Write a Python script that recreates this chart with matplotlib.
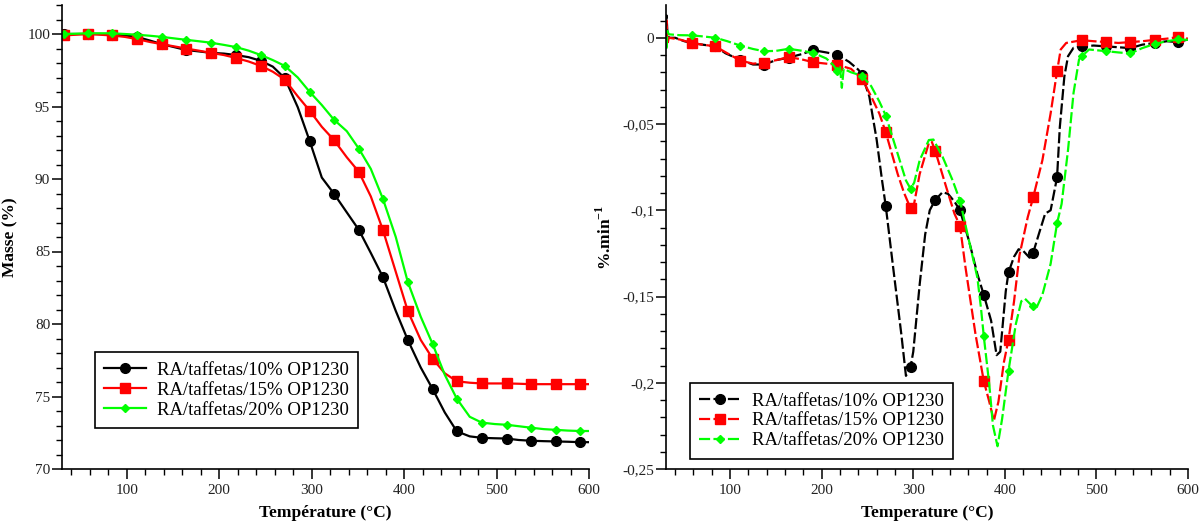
import matplotlib
matplotlib.use("Agg")
import matplotlib.pyplot as plt
from matplotlib.ticker import MultipleLocator, FuncFormatter

plt.rcParams['font.family'] = ['Liberation Serif', 'DejaVu Serif']
plt.rcParams['mathtext.fontset'] = 'custom'
plt.rcParams['mathtext.rm'] = 'Liberation Serif'
plt.rcParams['mathtext.bf'] = 'Liberation Serif:bold'

labels = ["RA/taffetas/10% OP1230", "RA/taffetas/15% OP1230", "RA/taffetas/20% OP1230"]
colors = ["#000000", "#ff0000", "#00ff00"]

# ---------------- Left panel: TGA mass (%) ----------------
T_left = [32, 45, 58, 71, 84, 98, 111, 125, 138, 151, 164, 178, 191, 205, 218, 232,
          245, 258, 271, 285, 298, 311, 324, 338, 351, 364, 377, 391, 404, 418, 431,
          444, 457, 471, 484, 498, 511, 524, 537, 551, 564, 577, 590, 600]
mass_10 = [100.0, 100.0, 100.0, 100.0, 99.95, 99.9, 99.8, 99.55, 99.3, 99.1, 98.9, 98.8,
           98.7, 98.65, 98.55, 98.4, 98.15, 97.75, 96.95, 94.95, 92.6, 90.1, 89.0, 87.7,
           86.5, 84.9, 83.25, 80.9, 78.9, 77.0, 75.5, 73.9, 72.6, 72.25, 72.15, 72.12,
           72.1, 72.0, 71.95, 71.92, 71.9, 71.88, 71.85, 71.85]
mass_15 = [99.9, 99.95, 100.0, 99.95, 99.9, 99.8, 99.65, 99.45, 99.3, 99.15, 99.0, 98.85,
           98.7, 98.55, 98.35, 98.1, 97.8, 97.4, 96.85, 95.7, 94.7, 93.6, 92.7, 91.5,
           90.5, 88.8, 86.5, 83.6, 80.9, 78.9, 77.6, 76.6, 76.05, 75.95, 75.9, 75.9,
           75.9, 75.88, 75.85, 75.85, 75.85, 75.85, 75.85, 75.85]
mass_20 = [100.0, 100.02, 100.05, 100.05, 100.05, 100.0, 99.95, 99.88, 99.8, 99.7, 99.6,
           99.5, 99.4, 99.25, 99.1, 98.85, 98.55, 98.2, 97.8, 97.0, 96.0, 95.1, 94.1,
           93.3, 92.1, 90.7, 88.65, 86.0, 82.9, 80.5, 78.6, 76.5, 74.85, 73.6, 73.2,
           73.1, 73.05, 72.95, 72.85, 72.75, 72.7, 72.65, 72.62, 72.62]

# ---------------- Right panel: DTG (%/min) ----------------
T_dtg_10 = [30, 30.5, 31.5, 33, 40, 50, 58, 70, 84, 95, 111, 125, 137, 150, 164, 178, 191,
            205, 217, 230, 240, 244, 252, 260, 266, 270, 278, 287, 292, 297, 300, 307, 313,
            318, 324, 332, 338, 345, 351, 361, 370, 377, 385, 391, 395, 401, 404, 410,
            415, 420, 427, 431, 437, 444, 450, 457, 460, 465, 469, 475, 484, 497, 511,
            524, 537, 550, 564, 577, 589, 600]
dtg_10 = [0.0, 0.013, 0.004, 0.0, 0.0, -0.002, -0.003, -0.004, -0.005, -0.009, -0.0128,
          -0.0155, -0.0155, -0.013, -0.0115, -0.0095, -0.0072, -0.0085, -0.0098, -0.014,
          -0.0185, -0.0215, -0.034, -0.059, -0.083, -0.0977, -0.133, -0.172, -0.196,
          -0.191, -0.182, -0.143, -0.114, -0.100, -0.094, -0.0895, -0.0905, -0.095,
          -0.100, -0.118, -0.137, -0.149, -0.164, -0.184, -0.182, -0.147, -0.136,
          -0.127, -0.1226, -0.1235, -0.1275, -0.1245, -0.114, -0.102, -0.100, -0.081,
          -0.052, -0.0224, -0.0107, -0.0058, -0.005, -0.0045, -0.005, -0.0055, -0.006,
          -0.004, -0.003, -0.002, -0.0025, -0.001]

T_dtg_15 = [30, 30.5, 31.5, 33, 45, 58, 70, 84, 97, 111, 125, 137, 150, 164, 178, 191,
            205, 217, 232, 244, 254, 263, 270, 283, 290, 297, 301, 307, 317, 320, 324,
            336, 345, 351, 357, 368, 377, 383, 388, 393, 399, 404, 410, 416, 425, 431,
            441, 450, 457, 461, 467, 484, 497, 511, 524, 537, 550, 564, 577, 589, 600]
dtg_15 = [0.0, 0.010, -0.004, 0.0, -0.001, -0.003, -0.004, -0.005, -0.009, -0.0132,
          -0.015, -0.0145, -0.013, -0.0112, -0.0125, -0.0142, -0.015, -0.0156, -0.018,
          -0.0237, -0.034, -0.044, -0.0549, -0.079, -0.090, -0.0988, -0.096, -0.079,
          -0.061, -0.060, -0.0656, -0.0866, -0.102, -0.109, -0.133, -0.172, -0.199,
          -0.211, -0.222, -0.211, -0.188, -0.175, -0.153, -0.126, -0.104, -0.0924,
          -0.071, -0.0438, -0.0195, -0.0068, -0.003, -0.0014, -0.002, -0.0025, -0.003,
          -0.0025, -0.002, -0.0012, -0.0005, 0.0004, -0.0005]

T_dtg_20 = [30, 30.5, 31.5, 33, 45, 58, 70, 84, 97, 111, 125, 137, 150, 164, 178, 191,
            205, 212, 217, 220, 222, 224, 232, 244, 254, 263, 270, 284, 292, 297, 301,
            307, 317, 322, 332, 343, 351, 361, 370, 374, 377, 383, 387, 392, 397, 404,
            412, 418, 422, 429, 431, 435, 441, 450, 457, 462, 469, 475, 481, 484, 492,
            511, 524, 537, 550, 564, 577, 589, 600]
dtg_20 = [0.0, -0.007, 0.004, 0.002, 0.0015, 0.0014, 0.0008, 0.0, -0.002, -0.0045,
          -0.0065, -0.0078, -0.0076, -0.0064, -0.0075, -0.0088, -0.012, -0.0154, -0.019,
          -0.017, -0.029, -0.018, -0.020, -0.022, -0.028, -0.037, -0.0451, -0.069,
          -0.0827, -0.0875, -0.084, -0.071, -0.0593, -0.059, -0.069, -0.0827, -0.0944,
          -0.118, -0.139, -0.157, -0.173, -0.201, -0.2247, -0.2368, -0.221, -0.193,
          -0.166, -0.1527, -0.1513, -0.155, -0.1555, -0.156, -0.149, -0.131, -0.1076,
          -0.0963, -0.065, -0.032, -0.0126, -0.0107, -0.0068, -0.0078, -0.0085, -0.0091,
          -0.006, -0.0035, -0.002, -0.001, -0.0012]

marker_T_right = [58, 84, 111, 137, 164, 191, 217, 244, 270, 297, 324, 351, 377, 404,
                  431, 457, 484, 511, 537, 564, 589]

fig = plt.figure(figsize=(12.02, 5.24), dpi=100)
axL = fig.add_axes([62 / 1202, 55 / 524, 527 / 1202, 464 / 524])
axR = fig.add_axes([666 / 1202, 55 / 524, 522 / 1202, 464 / 524])

marker_styles = [dict(marker='o', ms=7), dict(marker='s', ms=7.5), dict(marker='D', ms=4)]

left_series = [mass_10, mass_15, mass_20]
for vals, lab, col, ms in zip(left_series, labels, colors, marker_styles):
    axL.plot(T_left, vals, color=col, lw=1.6, label=lab,
             markevery=list(range(0, 43, 2)), mec=col, mfc=col, **ms)

right_series = [(T_dtg_10, dtg_10), (T_dtg_15, dtg_15), (T_dtg_20, dtg_20)]
for (tt, vals), lab, col, ms in zip(right_series, labels, colors, marker_styles):
    idx = [i for i, t in enumerate(tt) if t in marker_T_right]
    axR.plot(tt, vals, color=col, lw=1.6, ls=(0, (5, 1.5)), label=lab,
             markevery=idx, mec=col, mfc=col, **ms)

for ax in (axL, axR):
    ax.set_xlim(30, 600)
    ax.spines['top'].set_visible(False)
    ax.spines['right'].set_visible(False)
    ax.spines['left'].set_linewidth(1.2)
    ax.spines['bottom'].set_linewidth(1.2)
    ax.xaxis.set_major_locator(MultipleLocator(100))
    ax.xaxis.set_minor_locator(MultipleLocator(20))
    ax.tick_params(which='major', direction='out', length=7, width=1.1,
                   labelsize=11, colors='#222222')
    ax.tick_params(which='minor', direction='out', length=4.5, width=1.0)
    ax.tick_params(axis='both', which='both', color='black')
    ax.tick_params(axis='y', which='major', pad=1.5)

axL.set_ylim(70, 102)
axL.yaxis.set_major_locator(MultipleLocator(5))
axL.yaxis.set_minor_locator(MultipleLocator(1))
axL.set_xlabel("Température (°C)", fontsize=12.5, fontweight='bold', labelpad=6)
axL.set_ylabel("Masse (%)", fontsize=12.5, fontweight='bold')
axL.yaxis.set_label_coords(-0.082, 0.5)

axR.set_ylim(-0.25, 0.019)
axR.yaxis.set_major_locator(MultipleLocator(0.05))
axR.yaxis.set_minor_locator(MultipleLocator(0.01))
axR.yaxis.set_major_formatter(FuncFormatter(
    lambda v, p: "0" if abs(v) < 1e-9 else ("%g" % round(v, 3)).replace('.', ',')))
axR.set_xlabel("Temperature (°C)", fontsize=12.5, fontweight='bold', labelpad=6)
axR.set_ylabel(r"%.min$^{\mathbf{-1}}$", fontsize=12.5, fontweight='bold')
axR.yaxis.set_label_coords(-0.098, 0.5)

legkw = dict(loc='lower left', borderaxespad=0, fontsize=13.5, frameon=True,
             fancybox=False, handlelength=2.2, handletextpad=0.6, labelspacing=0.15,
             borderpad=0.5)
legL = axL.legend(bbox_to_anchor=(0.0626, 0.088), **legkw)
legR = axR.legend(bbox_to_anchor=(0.046, 0.022), **legkw)
for lg in (legL, legR):
    fr = lg.get_frame()
    fr.set_edgecolor('black')
    fr.set_linewidth(1.2)
    fr.set_alpha(1)

fig.savefig("out.png", dpi=100)
